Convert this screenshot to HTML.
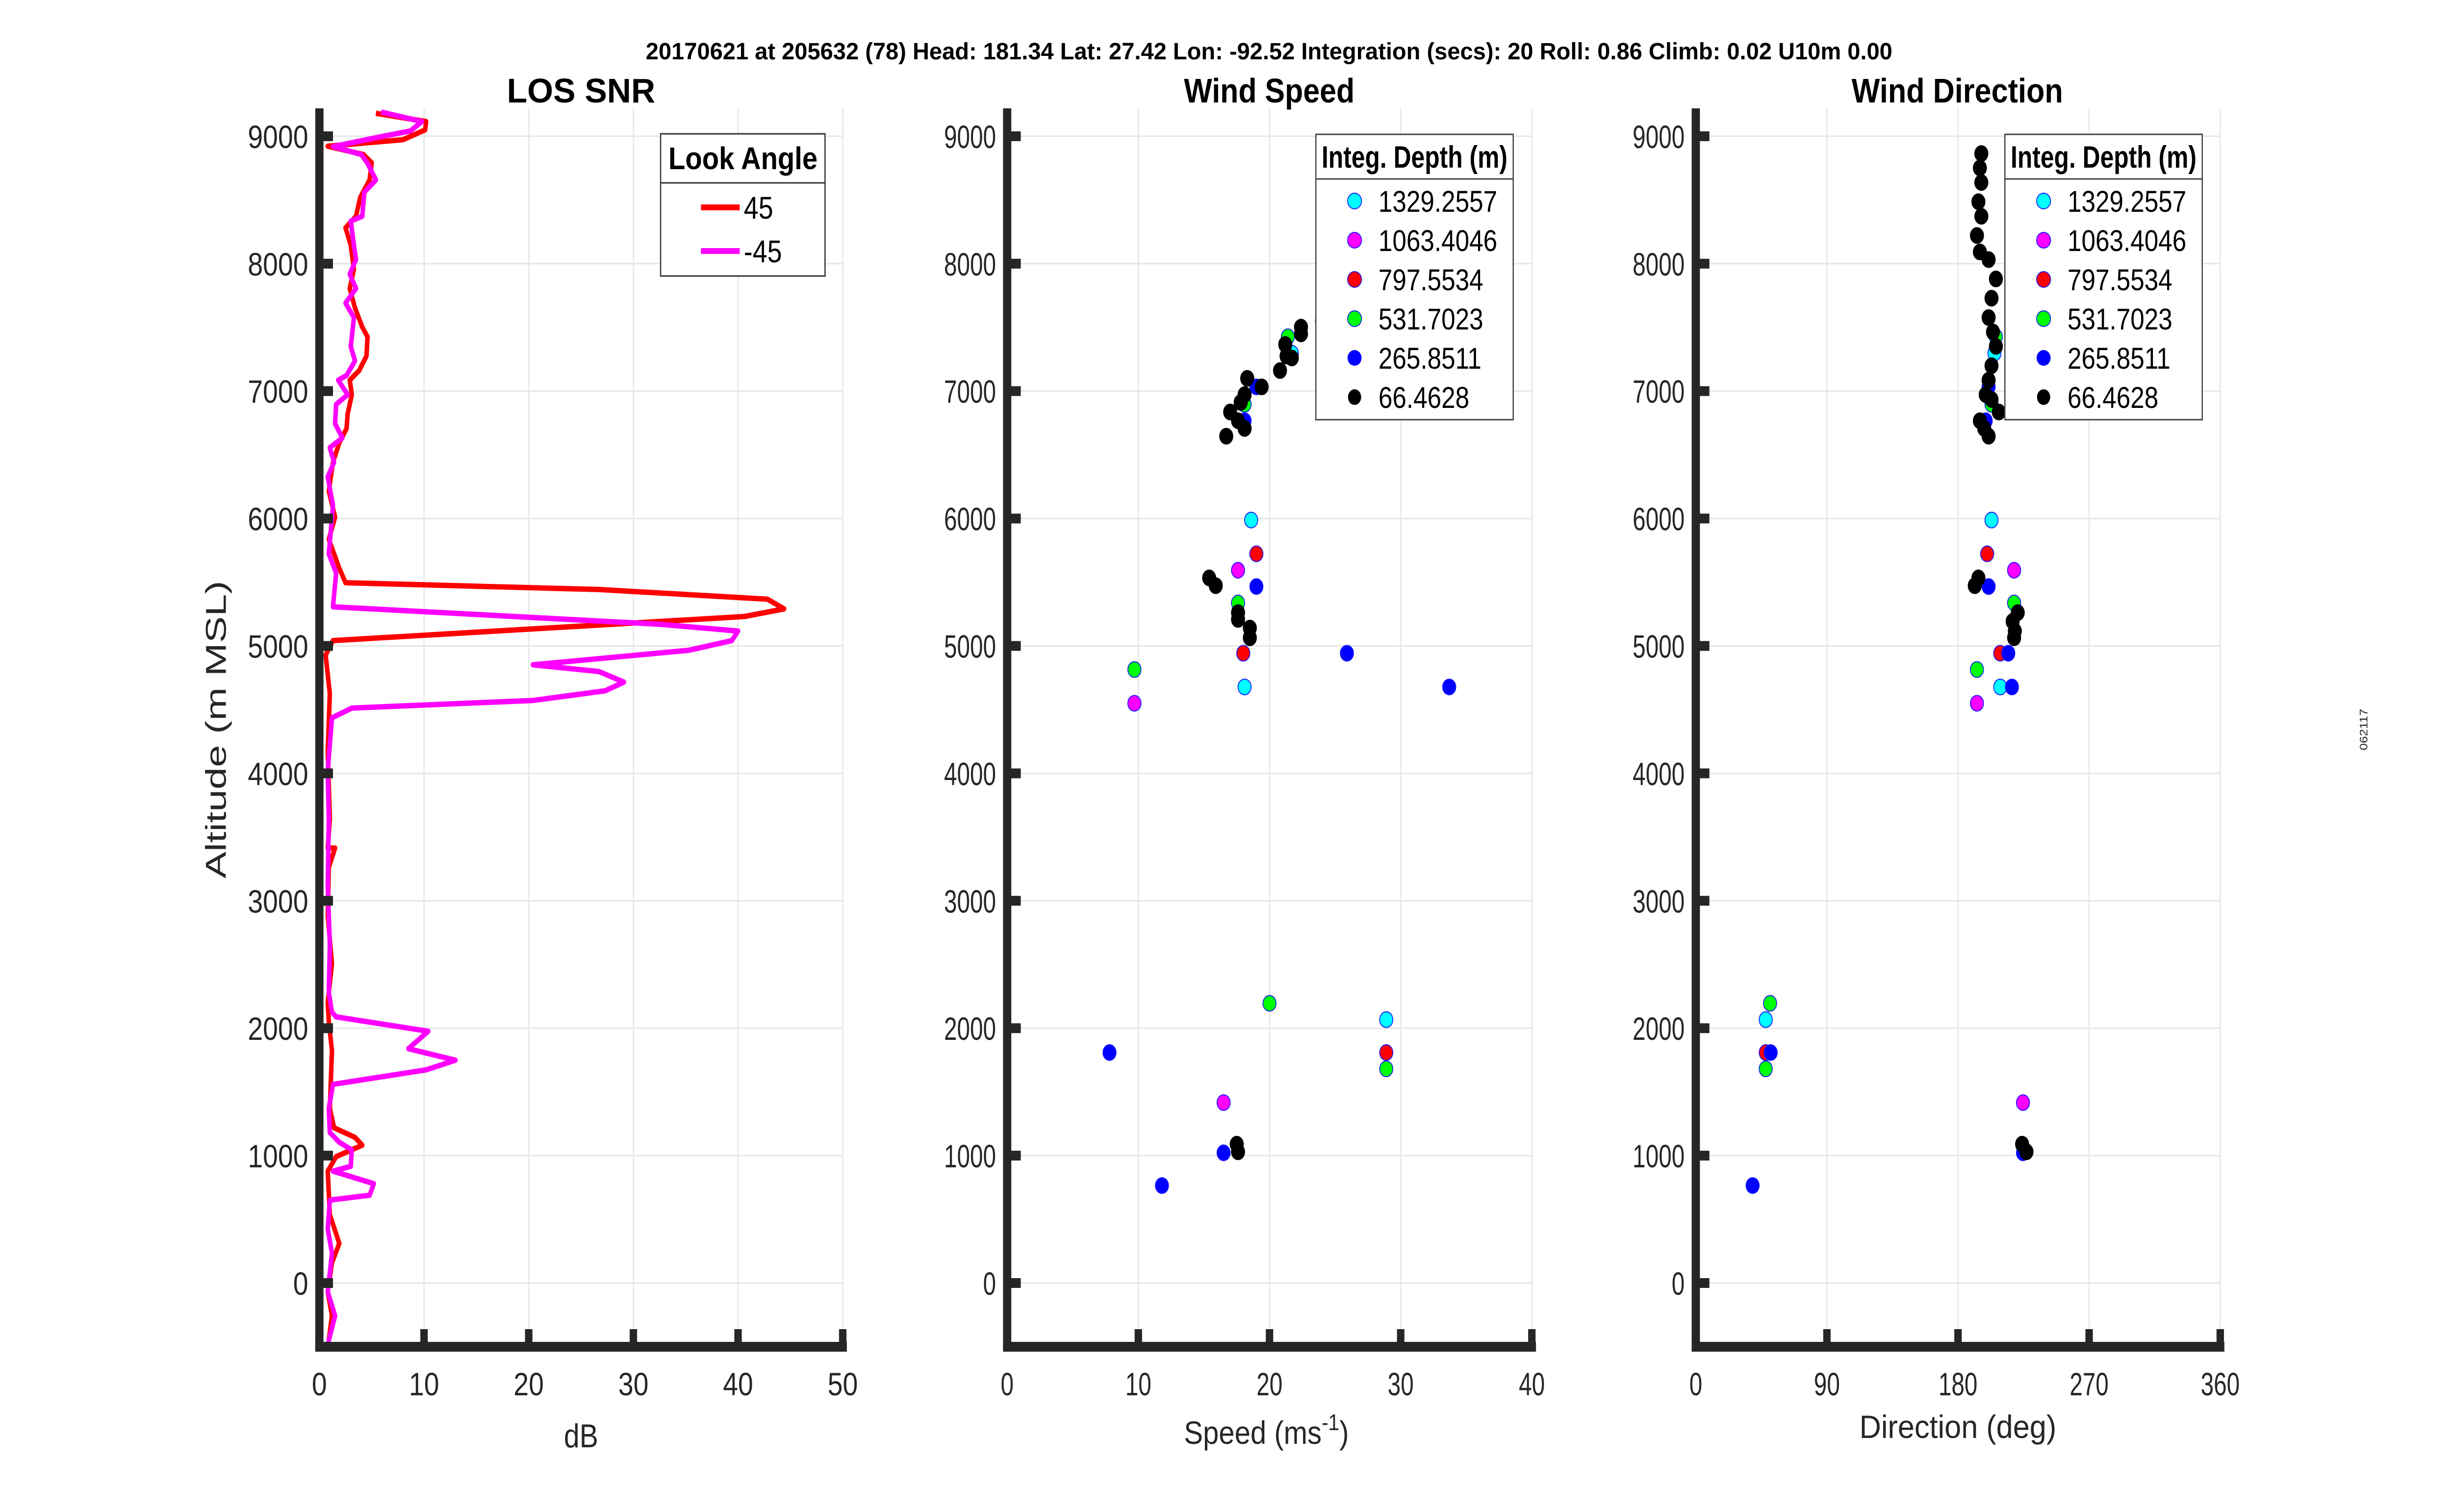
<!DOCTYPE html>
<html><head><meta charset="utf-8"><style>
html,body{margin:0;padding:0;background:#fff;width:100%;height:100%;overflow:hidden;}
svg{display:block;font-family:"Liberation Sans",Arial,sans-serif;width:100vw;height:100vh;}
</style></head><body>
<svg id="chart" viewBox="0 0 5950 3084" preserveAspectRatio="none" xmlns="http://www.w3.org/2000/svg">
<rect x="0" y="0" width="5950" height="3084" fill="#fff"/>
<text x="1567" y="121" font-size="48" font-weight="bold" textLength="3025" lengthAdjust="spacingAndGlyphs">20170621 at 205632 (78)  Head: 181.34  Lat: 27.42  Lon: -92.52  Integration (secs): 20  Roll: 0.86  Climb: 0.02  U10m 0.00</text>
<text transform="translate(5745,1488) rotate(-90)" font-size="26" text-anchor="middle" fill="#262626">062117</text>
<g id="layer"></g>
<text transform="translate(548,1488) rotate(-90)" font-size="70" fill="#262626" text-anchor="middle" textLength="607" lengthAdjust="spacingAndGlyphs">Altitude (m MSL)</text>
<text x="1410" y="2952" font-size="68" fill="#262626" text-anchor="middle">dB</text>
<text x="2873" y="2945" font-size="66" fill="#262626" textLength="400" lengthAdjust="spacingAndGlyphs">Speed (ms<tspan dy="-28" font-size="46">-1</tspan><tspan dy="28">)</tspan></text>
<text x="4512" y="2933" font-size="66" fill="#262626" textLength="478" lengthAdjust="spacingAndGlyphs">Direction (deg)</text>
<g>
<rect x="1603" y="273" width="399" height="290" fill="#fff" stroke="#333" stroke-width="3"/>
<line x1="1603" y1="373" x2="2002" y2="373" stroke="#333" stroke-width="3"/>
<text x="1622" y="345" font-size="64" font-weight="bold" textLength="362" lengthAdjust="spacingAndGlyphs">Look Angle</text>
<line x1="1701" y1="423" x2="1795" y2="423" stroke="#ff0000" stroke-width="12"/>
<text x="1805" y="446" font-size="64">45</text>
<line x1="1701" y1="512" x2="1795" y2="512" stroke="#ff00ff" stroke-width="12"/>
<text x="1805" y="535" font-size="64">-45</text>
</g>
<g>
<rect x="3193" y="274" width="479" height="582" fill="#fff" stroke="#444" stroke-width="3"/>
<line x1="3193" y1="365" x2="3672" y2="365" stroke="#444" stroke-width="3"/>
<text x="3207" y="342" font-size="63" font-weight="bold" textLength="451" lengthAdjust="spacingAndGlyphs">Integ. Depth (m)</text>
<ellipse cx="3287" cy="410" rx="17" ry="16" fill="#00ffff" stroke="#1a1aff" stroke-width="2"/><text x="3345" y="432" font-size="61">1329.2557</text>
<ellipse cx="3287" cy="490" rx="17" ry="16" fill="#ff00ff" stroke="#1a1aff" stroke-width="2"/><text x="3345" y="512" font-size="61">1063.4046</text>
<ellipse cx="3287" cy="570" rx="17" ry="16" fill="#ff0000" stroke="#1a1aff" stroke-width="2"/><text x="3345" y="592" font-size="61">797.5534</text>
<ellipse cx="3287" cy="650" rx="17" ry="16" fill="#00ff00" stroke="#1a1aff" stroke-width="2"/><text x="3345" y="672" font-size="61">531.7023</text>
<ellipse cx="3287" cy="730" rx="17" ry="16" fill="#0000ff"/><text x="3345" y="752" font-size="61">265.8511</text>
<ellipse cx="3287" cy="810" rx="16" ry="16" fill="#000"/><text x="3345" y="832" font-size="61">66.4628</text>
</g>
<g>
<rect x="4865" y="274" width="479" height="582" fill="#fff" stroke="#444" stroke-width="3"/>
<line x1="4865" y1="365" x2="5344" y2="365" stroke="#444" stroke-width="3"/>
<text x="4879" y="342" font-size="63" font-weight="bold" textLength="451" lengthAdjust="spacingAndGlyphs">Integ. Depth (m)</text>
<ellipse cx="4959" cy="410" rx="17" ry="16" fill="#00ffff" stroke="#1a1aff" stroke-width="2"/><text x="5017" y="432" font-size="61">1329.2557</text>
<ellipse cx="4959" cy="490" rx="17" ry="16" fill="#ff00ff" stroke="#1a1aff" stroke-width="2"/><text x="5017" y="512" font-size="61">1063.4046</text>
<ellipse cx="4959" cy="570" rx="17" ry="16" fill="#ff0000" stroke="#1a1aff" stroke-width="2"/><text x="5017" y="592" font-size="61">797.5534</text>
<ellipse cx="4959" cy="650" rx="17" ry="16" fill="#00ff00" stroke="#1a1aff" stroke-width="2"/><text x="5017" y="672" font-size="61">531.7023</text>
<ellipse cx="4959" cy="730" rx="17" ry="16" fill="#0000ff"/><text x="5017" y="752" font-size="61">265.8511</text>
<ellipse cx="4959" cy="810" rx="16" ry="16" fill="#000"/><text x="5017" y="832" font-size="61">66.4628</text>
</g>
</svg>
<script>
// ---- data ----
const yTicks = [0,1000,2000,3000,4000,5000,6000,7000,8000,9000];
const snrTicks = [0,10,20,30,40,50];
const speedTicks = [0,10,20,30,40];
const dirTicks = [0,90,180,270,360];
const seriesNames = ["1329.2557","1063.4046","797.5534","531.7023","265.8511","66.4628"];
const seriesColors = ["#00ffff","#ff00ff","#ff0000","#00ff00","#0000ff","#000000"];

const snr45Alt = [9180,9115,9050,8973,8922,8857,8792,8657,8520,8372,8281,8145,7956,7805,7653,7502,7426,7275,7161,7086,6972,6821,6707,6594,6442,6215,6011,5837,5610,5496,5443,5367,5291,5231,5042,4928,4625,4171,3641,3414,3414,3263,2884,2506,2203,2051,1824,1370,1219,1143,1082,992,878,537,310,159,-68,-257,-447];
const snr45Val = [5.4,10.2,10.1,8.0,0.8,4.2,5.0,4.8,3.9,3.5,2.5,3.0,3.3,2.9,3.4,4.1,4.6,4.5,3.8,2.9,3.1,2.7,2.6,1.9,1.3,0.9,1.5,0.9,1.9,2.5,26.7,42.8,44.4,40.6,1.3,0.6,1.0,0.8,1.0,0.8,1.5,0.9,0.8,1.2,0.8,0.9,1.2,1.0,1.4,3.4,4.1,1.6,0.8,1.0,1.9,1.2,0.8,1.2,0.9];
const snrM45Alt = [9190,9115,9042,9000,8919,8857,8788,8657,8562,8372,8334,8145,8032,7918,7805,7691,7577,7350,7237,7123,7086,6972,6896,6745,6632,6556,6442,6328,6101,5723,5572,5307,5170,5117,5042,4966,4852,4799,4716,4648,4572,4512,4436,4020,3641,3111,2657,2279,2127,2089,1976,1839,1749,1673,1559,1370,1181,1105,1045,916,878,780,689,651,424,235,-68,-257,-484];
const snrM45Val = [5.9,9.8,8.7,6.1,1.3,4.0,4.6,5.4,4.3,4.1,3.0,3.3,3.5,2.9,3.5,2.5,3.3,3.0,3.4,2.6,1.8,2.7,1.6,1.5,2.2,1.0,1.4,0.8,1.3,0.9,1.6,1.3,32.5,40.0,39.4,35.3,20.4,26.7,29.1,27.3,20.4,3.1,1.2,0.8,0.9,0.8,1.0,0.9,1.2,1.6,10.4,8.5,13.0,10.2,1.3,0.9,1.0,1.9,3.1,3.0,1.3,5.2,4.8,1.0,0.8,1.2,0.8,1.5,0.8];

const spdAlt0 = [5988,4678,2067,7297];
const spdVal0 = [18.6,18.1,28.9,21.7];
const spdAlt1 = [5594,4550,1416];
const spdVal1 = [17.6,9.7,16.5];
const spdAlt2 = [5723,4943,1809];
const spdVal2 = [19.0,18.0,28.9];
const spdAlt3 = [5337,4815,2195,1681,7426,6896];
const spdVal3 = [17.6,9.7,20.0,28.9,21.4,18.1];
const spdAlt4 = [5466,4943,4678,1809,1022,765,7033,6767,7555];
const spdVal4 = [19.0,25.9,33.7,7.8,16.5,11.8,19.0,18.1,24.0];
const spdAlt5 = [6646,6707,6767,6836,6911,6972,7100,7033,7161,7275,7366,7260,7449,7502,5534,5473,5261,5208,5140,5064,1090,1030];
const spdVal5 = [16.7,18.1,17.6,17.0,17.8,18.1,18.3,19.4,20.8,21.3,21.2,21.7,22.4,22.4,15.4,15.9,17.6,17.6,18.5,18.5,17.5,17.6];

const dirAlt0 = [5988,4678,2067,7297];
const dirVal0 = [203,209,48,205];
const dirAlt1 = [5594,4550,1416];
const dirVal1 = [218.5,193,224.6];
const dirAlt2 = [5723,4943,1809];
const dirVal2 = [200,209,48];
const dirAlt3 = [5337,4815,2195,1681,7426,6896];
const dirVal3 = [218.5,193,51,48,206,203];
const dirAlt4 = [5466,4943,4678,1809,1022,765,7033,6767];
const dirVal4 = [201,214.5,217,51.4,224.6,39,201,199];
const dirAlt5 = [8864,8751,8637,8486,8372,8221,8092,8032,7880,7729,7577,7464,7351,7199,7085,6972,6934,6836,6767,6707,6646,5473,5534,5261,5193,5117,5064,1090,1030];
const dirVal5 = [196,195,196,194,196,193,195,201,206,203,201,204,206,203,201,199,203,208,195,198,201,191.5,194,221,217.5,219,218.5,224,227];

// ---- layout ----
const NS = "http://www.w3.org/2000/svg";
const layer = document.getElementById('layer');
const Y0 = 2617, YPX = 0.2599, TOP = 221, BOT = 2747;
function yPix(v){ return Y0 - v*YPX; }
function el(tag, attrs, parent){
  const e = document.createElementNS(NS, tag);
  for (const k in attrs) e.setAttribute(k, attrs[k]);
  (parent||layer).appendChild(e);
  return e;
}
const axes = [
  {x0:775, px:25.4, xmax:50, ticks:snrTicks, name:'snr', title:'LOS SNR', tx:1230, tw:360},
  {x0:2444, px:31.83, xmax:40, ticks:speedTicks, name:'speed', title:'Wind Speed', tx:2873, tw:414},
  {x0:4115, px:3.535, xmax:360, ticks:dirTicks, name:'direction', title:'Wind Direction', tx:4493, tw:513}
];
axes.forEach(function(a){
  const g = el('g', {});
  
  
  a.g = g;
  a.xp = function(v){ return a.x0 + v*a.px; };
  const xR = a.xp(a.xmax);
  a.ticks.forEach(function(t){
    if (t===0) return;
    const l = el('line', {x1:a.xp(t), x2:a.xp(t), y1:TOP, y2:BOT, stroke:'#e6e6e6', 'stroke-width':3}, g);
    
    
  });
  yTicks.forEach(function(t){
    const l = el('line', {x1:a.x0, x2:xR, y1:yPix(t), y2:yPix(t), stroke:'#e6e6e6', 'stroke-width':3}, g);
    
    
  });
  const tt = el('text', {x:a.tx, y:209, 'font-size':70, 'font-weight':'bold', textLength:a.tw, lengthAdjust:'spacingAndGlyphs'}, g);
  tt.textContent = a.title;
  
  
});

function drawLine(a, alts, vals, color, nm){
  let d = '';
  for (let i=0;i<alts.length;i++) d += (i?'L':'M') + a.xp(vals[i]).toFixed(1) + ',' + yPix(alts[i]).toFixed(1);
  const p = el('path', {d:d, fill:'none', stroke:color, 'stroke-width':11, 'stroke-linejoin':'round', 'stroke-linecap':'butt'}, a.g);
  
  
}
drawLine(axes[0], snr45Alt, snr45Val, '#ff0000', 'snr-line-45');
drawLine(axes[0], snrM45Alt, snrM45Val, '#ff00ff', 'snr-line-minus45');

function drawPts(a, alts, vals, si){
  for (let i=0;i<alts.length;i++){
    const c = el('ellipse', {cx:a.xp(vals[i]), cy:yPix(alts[i]), rx:16, ry:16, fill:seriesColors[si], stroke:si===5?'#000':'#1a1aff', 'stroke-width':2}, a.g);
    
    
  }
}
const spdA=[spdAlt0,spdAlt1,spdAlt2,spdAlt3,spdAlt4,spdAlt5], spdV=[spdVal0,spdVal1,spdVal2,spdVal3,spdVal4,spdVal5];
const dirA=[dirAlt0,dirAlt1,dirAlt2,dirAlt3,dirAlt4,dirAlt5], dirV=[dirVal0,dirVal1,dirVal2,dirVal3,dirVal4,dirVal5];
for (let s=0;s<6;s++){ drawPts(axes[1], spdA[s], spdV[s], s); drawPts(axes[2], dirA[s], dirV[s], s); }

axes.forEach(function(a, ai){
  const g = a.g, xR = a.xp(a.xmax);
  const narrow = ai>0;
  const ls = el('rect', {x:a.x0-10, y:TOP, width:20, height:BOT-TOP+10, fill:'#262626'}, g);
  
  
  const bs = el('rect', {x:a.x0-10, y:BOT-10, width:xR-a.x0+20, height:20, fill:'#262626'}, g);
  
  
  a.ticks.forEach(function(t){
    const tk = el('rect', {x:a.xp(t)-9, y:BOT-36, width:18, height:30, fill:'#262626'}, g);
    
    
    const tl = el('text', {x:a.xp(t), y:2846, 'font-size':66, fill:'#262626', 'text-anchor':'middle'}, g);
    if (narrow) tl.setAttribute('transform', 'translate(' + a.xp(t) + ',0) scale(0.86,1) translate(' + (-a.xp(t)) + ',0)');
    tl.textContent = String(t);
    
    
  });
  yTicks.forEach(function(t){
    const tk = el('rect', {x:a.x0, y:yPix(t)-10, width:33, height:20, fill:'#262626'}, g);
    
    
    const xx = a.x0 - 27;
    const tl = el('text', {x:xx, y:yPix(t)+24, 'font-size':66, fill:'#262626', 'text-anchor':'end'}, g);
    if (narrow) tl.setAttribute('transform', 'translate(' + xx + ',0) scale(0.86,1) translate(' + (-xx) + ',0)');
    tl.textContent = String(t);
    
    
  });
});
</script>
</body></html>
